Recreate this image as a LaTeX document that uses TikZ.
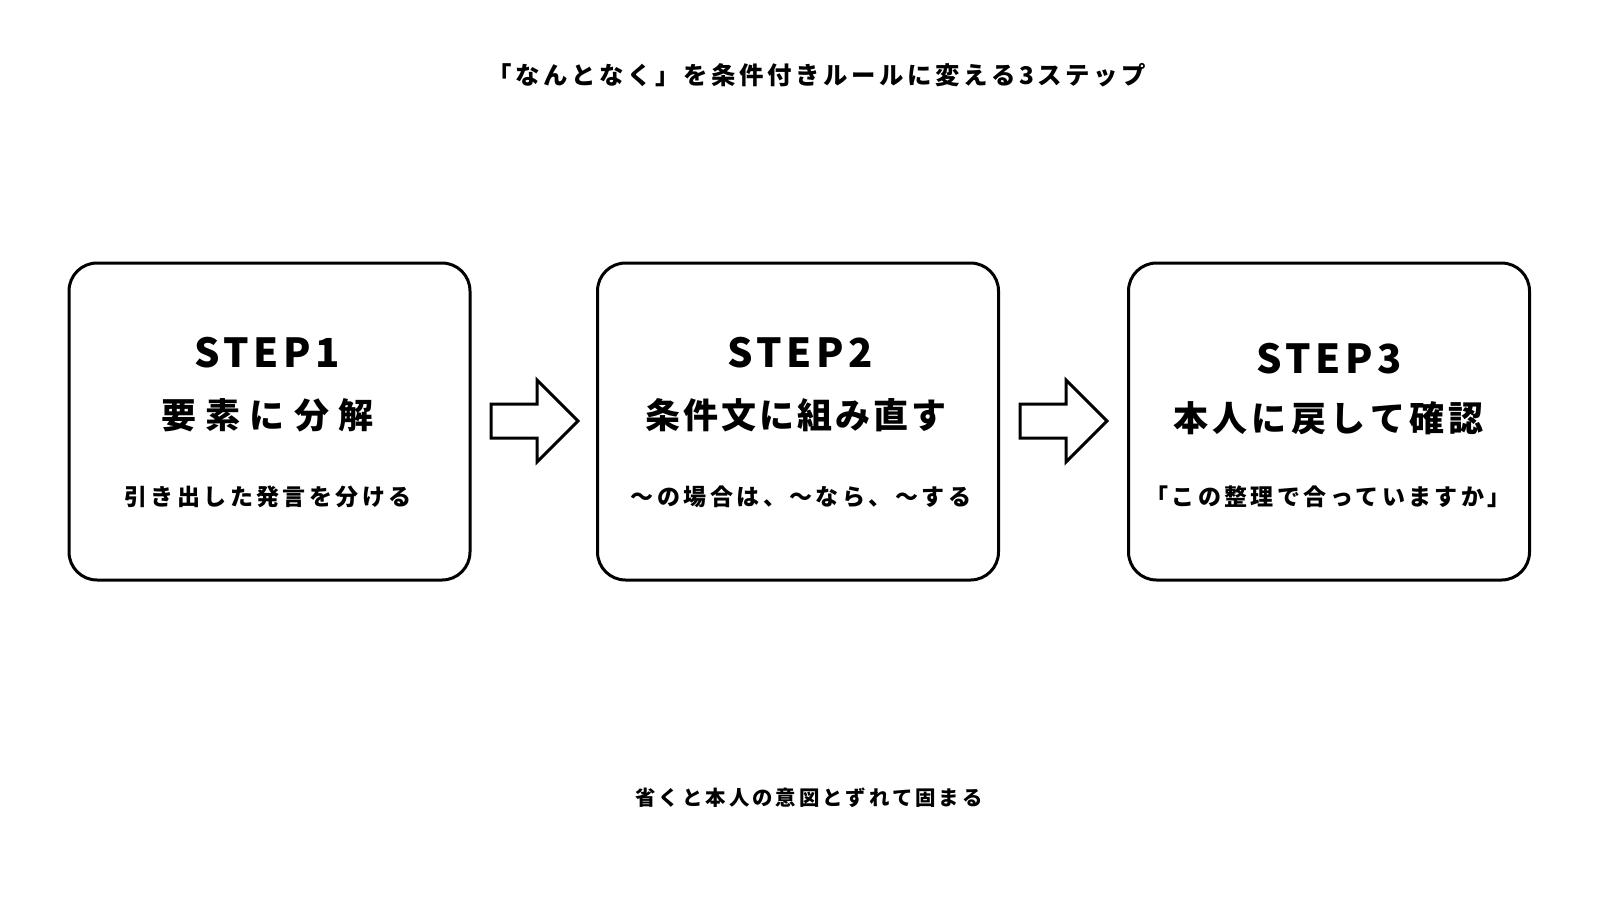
\documentclass[tikz,border=0pt]{standalone}
\usepackage{fontspec}
\setmainfont{Noto Sans CJK JP}[LetterSpace=15]
\usetikzlibrary{shapes.arrows}

% even pitch for the box headings
\ExplSyntaxOn
\NewDocumentCommand\pitched{mm}{\tl_map_inline:nn {#2} {\makebox[#1]{##1}}}
\ExplSyntaxOff

\tikzset{
    stepbox/.style={draw, line width=1.5pt, rounded corners=14pt, minimum width=200.5pt, minimum height=158.5pt},
    flowarrow/.style={single arrow, draw, line width=1.5pt, fill=white, anchor=tail, inner xsep=0pt, inner ysep=7.75pt, minimum height=43.5pt, single arrow head extend=12pt},
    steplabel/.style={font=\bfseries\fontsize{20pt}{23pt}\selectfont\addfontfeatures{LetterSpace=11}},
    steptitle/.style={font=\bfseries\fontsize{17.5pt}{21pt}\selectfont\addfontfeatures{LetterSpace=0}},
    stepnote/.style={font=\bfseries\fontsize{11.5pt}{13pt}\selectfont}
}

\begin{document}
\begin{tikzpicture}[x=0.5pt, y=-0.5pt]
    \useasboundingbox[fill=white] (0,0) rectangle (1600,900);

    \node[font=\bfseries\fontsize{12.2pt}{14pt}\selectfont] (title) at (817,75) {「なんとなく」を条件付きルールに変える3ステップ};

    \node[stepbox] (box1) at (269.5,421.5) {};
    \node[stepbox] (box2) at (798,421.5) {};
    \node[stepbox] (box3) at (1329,421.5) {};

    \node[flowarrow] (arr1) at (489.5,421) {};
    \node[flowarrow] (arr2) at (1018.5,421) {};

    \node[steplabel] (lab1) at (267,353) {STEP1};
    \node[steptitle] (tit1) at (267.5,415) {\pitched{22.2pt}{要素に分解}};
    \node[stepnote] (note1) at (268,497) {引き出した発言を分ける};

    \node[steplabel] (lab2) at (800,353) {STEP2};
    \node[steptitle] (tit2) at (796,415) {\pitched{19.05pt}{条件文に組み直す}};
    \node[stepnote] (note2) at (801,497) {～の場合は、～なら、～する};

    \node[steplabel] (lab3) at (1329,359) {STEP3};
    \node[steptitle] (tit3) at (1328.5,418) {\pitched{19.7pt}{本人に戻して確認}};
    \node[stepnote] (note3) at (1328,497) {「この整理で合っていますか」};

    \node[font=\bfseries\fontsize{10.2pt}{12pt}\selectfont] (foot) at (809,798) {省くと本人の意図とずれて固まる};
\end{tikzpicture}
\end{document}
